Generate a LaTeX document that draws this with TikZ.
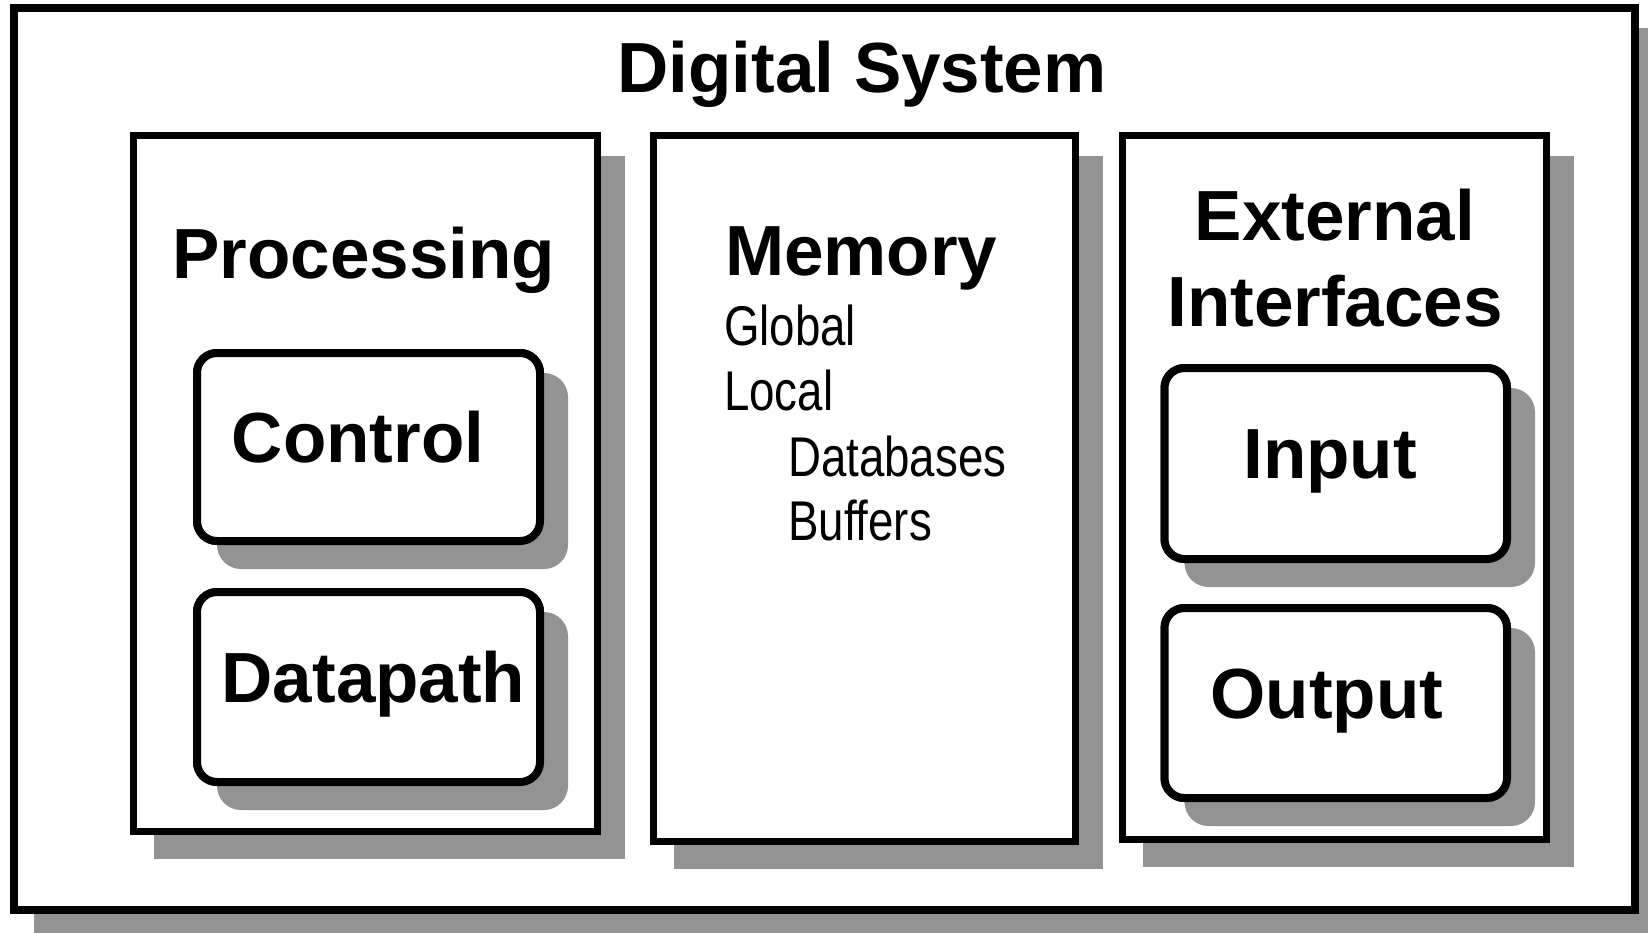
\documentclass[tikz,border=0pt]{standalone}
\usepackage{fontspec}
\setmainfont{Liberation Sans}
\newfontfamily\narrowfont[FakeStretch=0.815]{Liberation Sans}
\usetikzlibrary{calc}
\definecolor{shadowgray}{RGB}{147,147,147}

\tikzset{
  panel/.style={draw=black, fill=white, rectangle, line width=#1, outer sep=0.5*#1, inner sep=0pt},
  panel/.default=7pt,
  unitbox/.style={draw=black, fill=white, rectangle, rounded corners=20pt, line width=8pt, outer sep=4pt, inner sep=0pt},
  headline/.style={inner sep=0pt, anchor=base, font=\fontsize{71}{80}\selectfont\bfseries},
  listline/.style={inner sep=0pt, anchor=base west, font=\fontsize{56}{62}\selectfont\narrowfont},
  shadefill/.style={fill=shadowgray}
}

% grey drop shadow behind a named node, offset down and to the right
\newcommand\dropshade[2][0pt]{%
  \fill[shadefill, rounded corners=#1] ($(#2.north west)+(24,24)$) rectangle ($(#2.south east)+(24,24)$);}

\begin{document}
\begin{tikzpicture}[x=1pt, y=-1pt]
\useasboundingbox (0,0) rectangle (1648,932);

% whole system
\node[panel=8pt, minimum width=1621pt, minimum height=902pt] (sys) at (824.5,459) {};
\dropshade{sys}
\node[panel=8pt, minimum width=1621pt, minimum height=902pt] (sys) at (824.5,459) {};
\node[headline] (title) at (862,92.5) {Digital System};

% three subsystems
\coordinate (pc) at (365,483);
\coordinate (mc) at (864,488);
\coordinate (ec) at (1334,487);
\path (pc) node[panel, minimum width=464pt, minimum height=696pt] (proc) {};
\path (mc) node[panel, minimum width=422pt, minimum height=706pt] (mem) {};
\path (ec) node[panel, minimum width=424pt, minimum height=704pt] (ext) {};
\dropshade{proc}
\dropshade{mem}
\dropshade{ext}
\path (pc) node[panel, minimum width=464pt, minimum height=696pt] (proc) {};
\path (mc) node[panel, minimum width=422pt, minimum height=706pt] (mem) {};
\path (ec) node[panel, minimum width=424pt, minimum height=704pt] (ext) {};

% processing unit
\node[headline] (proclabel) at (364,278.5) {Processing};
\node[unitbox, minimum width=343pt, minimum height=188pt] (ctrl) at (368.5,447) {};
\node[unitbox, minimum width=343pt, minimum height=190pt] (dp) at (368.5,687) {};
\dropshade[24pt]{ctrl}
\dropshade[24pt]{dp}
\node[unitbox, minimum width=343pt, minimum height=188pt] (ctrl) at (368.5,447) {};
\node[unitbox, minimum width=343pt, minimum height=190pt] (dp) at (368.5,687) {};
\node[headline] (ctrllabel) at (358,462.5) {Control};
\node[headline] (dplabel) at (373.5,702) {Datapath};

% memory
\node[headline, anchor=base west] (memlabel) at (725,275) {Memory};
\node[listline] (glob) at (724,345) {Global};
\node[listline] (loc) at (724,410) {Local};
\node[listline] (dbs) at (788,476) {Databases};
\node[listline] (buf) at (788,540) {Buffers};

% external interfaces
\node[headline] (extlabel1) at (1335,240) {External};
\node[headline] (extlabel2) at (1335,326) {Interfaces};
\node[unitbox, minimum width=342.5pt, minimum height=191pt] (inp) at (1335.75,463.5) {};
\node[unitbox, minimum width=342.5pt, minimum height=190pt] (outp) at (1335.75,703) {};
\dropshade[24pt]{inp}
\dropshade[24pt]{outp}
\node[unitbox, minimum width=342.5pt, minimum height=191pt] (inp) at (1335.75,463.5) {};
\node[unitbox, minimum width=342.5pt, minimum height=190pt] (outp) at (1335.75,703) {};
\node[headline] (inlabel) at (1330,478) {Input};
\node[headline] (outlabel) at (1327,718) {Output};
\end{tikzpicture}
\end{document}
